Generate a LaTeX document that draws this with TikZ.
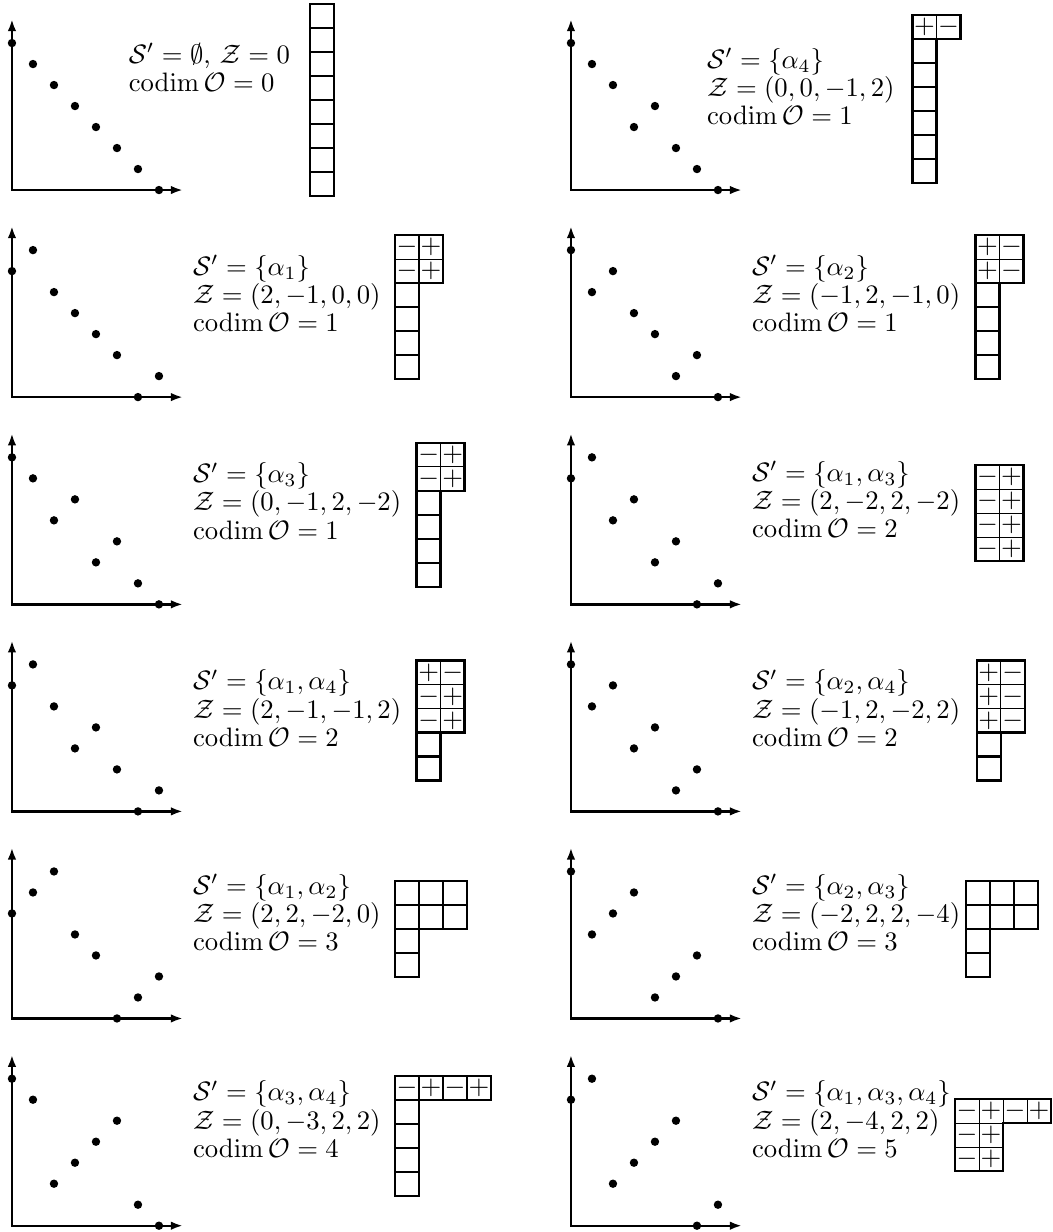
\documentclass[tikz,border=0pt]{standalone}
\usepackage{amsmath,amssymb}
\usetikzlibrary{arrows.meta}

\begin{document}
\begin{tikzpicture}[
  x=7.875pt, y=7.875pt,
  >={Latex[length=4.5pt, width=3.2pt]},
  axisline/.style={line width=0.9pt, <->},
  dot/.style={fill=black},
  info/.style={anchor=base west, inner sep=0pt, align=left},
  cellline/.style={line width=0.85pt},
  signcell/.style={draw, thin, minimum size=9pt, inner sep=0pt, outer sep=0pt},
]

% Page frame
\useasboundingbox (0,0) rectangle (50.14,-58.67);

% text nodes are anchored at the baseline of their last line

% === Row 1, left: S' empty ===
\begin{scope}[shift={(0.57,-9.05)}]
  \draw[axisline] (0,8.14) -- (0,0) -- (8.14,0);
  \foreach \h [count=\i from 0] in {7,6,5,4,3,2,1,0}
    \fill[dot] (\i,\h) circle (0.2);
  \node[info] (t1) at (5.54,4.68)
    {$\mathcal{S}'=\emptyset$, $\mathcal{Z}=0$\\[-1.4pt]
     $\operatorname{codim}\mathcal{O}=0$};
  \begin{scope}[shift={(14.19,8.86)}, x=9pt, y=9pt]
    \foreach \r in {0,...,7}
      \draw[cellline] (0,-\r) rectangle ++(1,-1);
  \end{scope}
\end{scope}

% === Row 1, right: alpha_4 ===
\begin{scope}[shift={(27.19,-9.05)}]
  \draw[axisline] (0,8.14) -- (0,0) -- (8.14,0);
  \foreach \h [count=\i from 0] in {7,6,5,3,4,2,1,0}
    \fill[dot] (\i,\h) circle (0.2);
  \node[info] (t2) at (6.46,3.11)
    {$\mathcal{S}'=\{\alpha_4\}$\\[-1.4pt]
     $\mathcal{Z}=(0,0,-1,2)$\\[-1.4pt]
     $\operatorname{codim}\mathcal{O}=1$};
  \begin{scope}[shift={(16.27,8.32)}, x=9pt, y=9pt]
    \foreach \s [count=\c from 0] in {+,-}
      \node[signcell] (p2-0-\c) at (\c+0.5,-0.5) {$\s$};
    \foreach \r in {1,...,6}
      \draw[cellline] (0,-\r) rectangle ++(1,-1);
    \draw[cellline] (0,0) rectangle (2,-1);
  \end{scope}
\end{scope}

% === Row 2, left: alpha_1 ===
\begin{scope}[shift={(0.57,-18.91)}]
  \draw[axisline] (0,8.14) -- (0,0) -- (8.14,0);
  \foreach \h [count=\i from 0] in {6,7,5,4,3,2,0,1}
    \fill[dot] (\i,\h) circle (0.2);
  \node[info] (t3) at (8.6,3.10)
    {$\mathcal{S}'=\{\alpha_1\}$\\[-1.4pt]
     $\mathcal{Z}=(2,-1,0,0)$\\[-1.4pt]
     $\operatorname{codim}\mathcal{O}=1$};
  \begin{scope}[shift={(18.24,7.71)}, x=9pt, y=9pt]
    \foreach \r in {0,1}
      \foreach \s [count=\c from 0] in {-,+}
        \node[signcell] (p3-\r-\c) at (\c+0.5,-\r-0.5) {$\s$};
    \foreach \r in {2,...,5}
      \draw[cellline] (0,-\r) rectangle ++(1,-1);
    \draw[cellline] (0,0) rectangle (2,-2);
  \end{scope}
\end{scope}

% === Row 2, right: alpha_2 ===
\begin{scope}[shift={(27.19,-18.91)}]
  \draw[axisline] (0,8.14) -- (0,0) -- (8.14,0);
  \foreach \h [count=\i from 0] in {7,5,6,4,3,1,2,0}
    \fill[dot] (\i,\h) circle (0.2);
  \node[info] (t4) at (8.6,3.10)
    {$\mathcal{S}'=\{\alpha_2\}$\\[-1.4pt]
     $\mathcal{Z}=(-1,2,-1,0)$\\[-1.4pt]
     $\operatorname{codim}\mathcal{O}=1$};
  \begin{scope}[shift={(19.27,7.71)}, x=9pt, y=9pt]
    \foreach \r in {0,1}
      \foreach \s [count=\c from 0] in {+,-}
        \node[signcell] (p4-\r-\c) at (\c+0.5,-\r-0.5) {$\s$};
    \foreach \r in {2,...,5}
      \draw[cellline] (0,-\r) rectangle ++(1,-1);
    \draw[cellline] (0,0) rectangle (2,-2);
  \end{scope}
\end{scope}

% === Row 3, left: alpha_3 ===
\begin{scope}[shift={(0.57,-28.78)}]
  \draw[axisline] (0,8.14) -- (0,0) -- (8.14,0);
  \foreach \h [count=\i from 0] in {7,6,4,5,2,3,1,0}
    \fill[dot] (\i,\h) circle (0.2);
  \node[info] (t5) at (8.6,3.10)
    {$\mathcal{S}'=\{\alpha_3\}$\\[-1.4pt]
     $\mathcal{Z}=(0,-1,2,-2)$\\[-1.4pt]
     $\operatorname{codim}\mathcal{O}=1$};
  \begin{scope}[shift={(19.27,7.70)}, x=9pt, y=9pt]
    \foreach \r in {0,1}
      \foreach \s [count=\c from 0] in {-,+}
        \node[signcell] (p5-\r-\c) at (\c+0.5,-\r-0.5) {$\s$};
    \foreach \r in {2,...,5}
      \draw[cellline] (0,-\r) rectangle ++(1,-1);
    \draw[cellline] (0,0) rectangle (2,-2);
  \end{scope}
\end{scope}

% === Row 3, right: alpha_1, alpha_3 ===
\begin{scope}[shift={(27.19,-28.78)}]
  \draw[axisline] (0,8.14) -- (0,0) -- (8.14,0);
  \foreach \h [count=\i from 0] in {6,7,4,5,2,3,0,1}
    \fill[dot] (\i,\h) circle (0.2);
  \node[info] (t6) at (8.6,3.17)
    {$\mathcal{S}'=\{\alpha_1,\alpha_3\}$\\[-1.4pt]
     $\mathcal{Z}=(2,-2,2,-2)$\\[-1.4pt]
     $\operatorname{codim}\mathcal{O}=2$};
  \begin{scope}[shift={(19.27,6.63)}, x=9pt, y=9pt]
    \foreach \r in {0,...,3}
      \foreach \s [count=\c from 0] in {-,+}
        \node[signcell] (p6-\r-\c) at (\c+0.5,-\r-0.5) {$\s$};
    \draw[cellline] (0,0) rectangle (2,-4);
  \end{scope}
\end{scope}

% === Row 4, left: alpha_1, alpha_4 ===
\begin{scope}[shift={(0.57,-38.64)}]
  \draw[axisline] (0,8.14) -- (0,0) -- (8.14,0);
  \foreach \h [count=\i from 0] in {6,7,5,3,4,2,0,1}
    \fill[dot] (\i,\h) circle (0.2);
  \node[info] (t7) at (8.6,3.10)
    {$\mathcal{S}'=\{\alpha_1,\alpha_4\}$\\[-1.4pt]
     $\mathcal{Z}=(2,-1,-1,2)$\\[-1.4pt]
     $\operatorname{codim}\mathcal{O}=2$};
  \begin{scope}[shift={(19.27,7.18)}, x=9pt, y=9pt]
    \foreach \s [count=\c from 0] in {+,-}
      \node[signcell] (p7-0-\c) at (\c+0.5,-0.5) {$\s$};
    \foreach \r in {1,2}
      \foreach \s [count=\c from 0] in {-,+}
        \node[signcell] (p7-\r-\c) at (\c+0.5,-\r-0.5) {$\s$};
    \foreach \r in {3,4}
      \draw[cellline] (0,-\r) rectangle ++(1,-1);
    \draw[cellline] (0,0) rectangle (2,-3);
  \end{scope}
\end{scope}

% === Row 4, right: alpha_2, alpha_4 ===
\begin{scope}[shift={(27.19,-38.64)}]
  \draw[axisline] (0,8.14) -- (0,0) -- (8.14,0);
  \foreach \h [count=\i from 0] in {7,5,6,3,4,1,2,0}
    \fill[dot] (\i,\h) circle (0.2);
  \node[info] (t8) at (8.6,3.10)
    {$\mathcal{S}'=\{\alpha_2,\alpha_4\}$\\[-1.4pt]
     $\mathcal{Z}=(-1,2,-2,2)$\\[-1.4pt]
     $\operatorname{codim}\mathcal{O}=2$};
  \begin{scope}[shift={(19.32,7.18)}, x=9pt, y=9pt]
    \foreach \r in {0,1,2}
      \foreach \s [count=\c from 0] in {+,-}
        \node[signcell] (p8-\r-\c) at (\c+0.5,-\r-0.5) {$\s$};
    \foreach \r in {3,4}
      \draw[cellline] (0,-\r) rectangle ++(1,-1);
    \draw[cellline] (0,0) rectangle (2,-3);
  \end{scope}
\end{scope}

% === Row 5, left: alpha_1, alpha_2 ===
\begin{scope}[shift={(0.57,-48.50)}]
  \draw[axisline] (0,8.14) -- (0,0) -- (8.14,0);
  \foreach \h [count=\i from 0] in {5,6,7,4,3,0,1,2}
    \fill[dot] (\i,\h) circle (0.2);
  \node[info] (t9) at (8.6,3.23)
    {$\mathcal{S}'=\{\alpha_1,\alpha_2\}$\\[-1.4pt]
     $\mathcal{Z}=(2,2,-2,0)$\\[-1.4pt]
     $\operatorname{codim}\mathcal{O}=3$};
  \begin{scope}[shift={(18.24,6.54)}, x=9pt, y=9pt]
    \foreach \r in {0,1}
      \foreach \c in {0,1,2}
        \draw[cellline] (\c,-\r) rectangle ++(1,-1);
    \foreach \r in {2,3}
      \draw[cellline] (0,-\r) rectangle ++(1,-1);
  \end{scope}
\end{scope}

% === Row 5, right: alpha_2, alpha_3 ===
\begin{scope}[shift={(27.19,-48.50)}]
  \draw[axisline] (0,8.14) -- (0,0) -- (8.14,0);
  \foreach \h [count=\i from 0] in {7,4,5,6,1,2,3,0}
    \fill[dot] (\i,\h) circle (0.2);
  \node[info] (t10) at (8.6,3.23)
    {$\mathcal{S}'=\{\alpha_2,\alpha_3\}$\\[-1.4pt]
     $\mathcal{Z}=(-2,2,2,-4)$\\[-1.4pt]
     $\operatorname{codim}\mathcal{O}=3$};
  \begin{scope}[shift={(18.80,6.54)}, x=9pt, y=9pt]
    \foreach \r in {0,1}
      \foreach \c in {0,1,2}
        \draw[cellline] (\c,-\r) rectangle ++(1,-1);
    \foreach \r in {2,3}
      \draw[cellline] (0,-\r) rectangle ++(1,-1);
  \end{scope}
\end{scope}

% === Row 6, left: alpha_3, alpha_4 ===
\begin{scope}[shift={(0.57,-58.37)}]
  \draw[axisline] (0,8.14) -- (0,0) -- (8.14,0);
  \foreach \h [count=\i from 0] in {7,6,2,3,4,5,1,0}
    \fill[dot] (\i,\h) circle (0.2);
  \node[info] (t11) at (8.6,3.25)
    {$\mathcal{S}'=\{\alpha_3,\alpha_4\}$\\[-1.4pt]
     $\mathcal{Z}=(0,-3,2,2)$\\[-1.4pt]
     $\operatorname{codim}\mathcal{O}=4$};
  \begin{scope}[shift={(18.24,7.14)}, x=9pt, y=9pt]
    \foreach \s [count=\c from 0] in {-,+,-,+}
      \node[signcell] (p11-0-\c) at (\c+0.5,-0.5) {$\s$};
    \foreach \r in {1,...,4}
      \draw[cellline] (0,-\r) rectangle ++(1,-1);
    \draw[cellline] (0,0) rectangle (4,-1);
  \end{scope}
\end{scope}

% === Row 6, right: alpha_1, alpha_3, alpha_4 ===
\begin{scope}[shift={(27.19,-58.37)}]
  \draw[axisline] (0,8.14) -- (0,0) -- (8.14,0);
  \foreach \h [count=\i from 0] in {6,7,2,3,4,5,0,1}
    \fill[dot] (\i,\h) circle (0.2);
  \node[info] (t12) at (8.6,3.25)
    {$\mathcal{S}'=\{\alpha_1,\alpha_3,\alpha_4\}$\\[-1.4pt]
     $\mathcal{Z}=(2,-4,2,2)$\\[-1.4pt]
     $\operatorname{codim}\mathcal{O}=5$};
  \begin{scope}[shift={(18.29,6.02)}, x=9pt, y=9pt]
    \foreach \s [count=\c from 0] in {-,+,-,+}
      \node[signcell] (p12-0-\c) at (\c+0.5,-0.5) {$\s$};
    \foreach \r in {1,2}
      \foreach \s [count=\c from 0] in {-,+}
        \node[signcell] (p12-\r-\c) at (\c+0.5,-\r-0.5) {$\s$};
    \draw[cellline] (0,0) -- (4,0) -- (4,-1) -- (2,-1) -- (2,-3) -- (0,-3) -- cycle;
  \end{scope}
\end{scope}

\end{tikzpicture}
\end{document}
